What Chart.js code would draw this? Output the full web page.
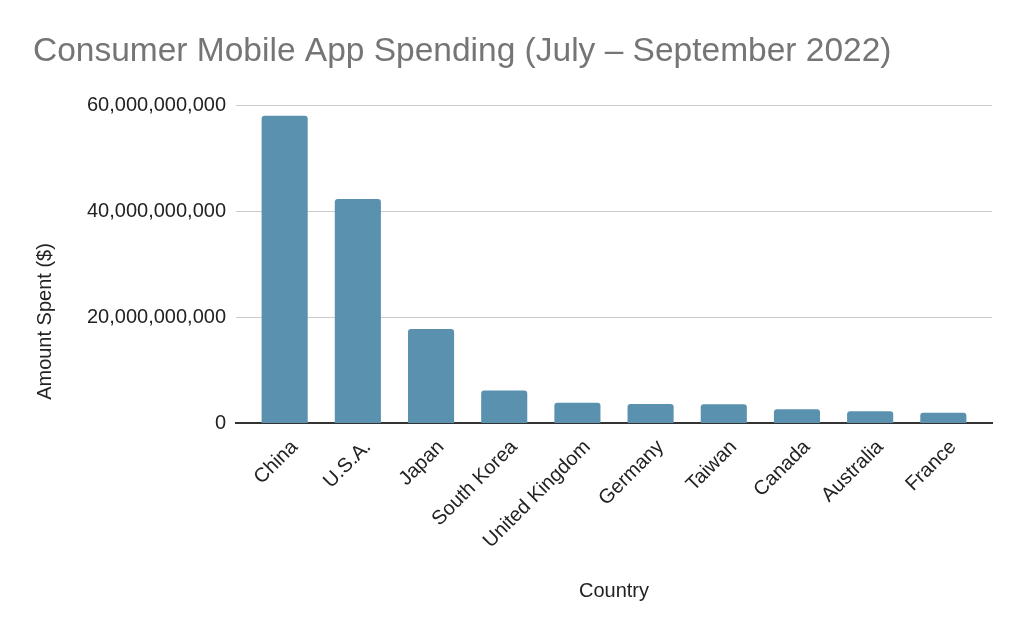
<!DOCTYPE html>
<html>
<head>
<meta charset="utf-8">
<script src="https://cdn.jsdelivr.net/npm/chart.js@4"></script>
<style>
  html, body { margin: 0; padding: 0; background: #fff; }
  #wrap { width: 1024px; height: 633px; }
</style>
</head>
<body>
<div id="wrap"><canvas id="spendChart"></canvas></div>
<script>
// Data
const countries = ['China', 'U.S.A.', 'Japan', 'South Korea', 'United Kingdom', 'Germany', 'Taiwan', 'Canada', 'Australia', 'France'];
const amounts = [58.0e9, 42.3e9, 17.8e9, 6.2e9, 3.9e9, 3.65e9, 3.6e9, 2.65e9, 2.3e9, 2.0e9];
const yTicks = [0, 20e9, 40e9, 60e9];

const FONT = 'Liberation Sans, Arial, sans-serif';

// bars sit on a numeric x axis so the plot can have a little extra room at both ends
const points = countries.map((c, i) => ({ x: i, y: amounts[i] }));

// y axis title is centred on the whole chart height, like the original
const yTitlePlugin = {
    id: 'yTitle',
    afterDraw(chart) {
        const c = chart.ctx;
        c.save();
        c.translate(45, chart.height / 2 + 5);
        c.rotate(-Math.PI / 2);
        c.fillStyle = '#222';
        c.font = '20px ' + FONT;
        c.textAlign = 'center';
        c.textBaseline = 'middle';
        c.fillText('Amount Spent ($)', 0, 0);
        c.restore();
    }
};

const ctx = document.getElementById('spendChart').getContext('2d');
const spendChart = new Chart(ctx, {
    type: 'bar',
    data: {
        datasets: [{
            label: 'Amount Spent ($)',
            data: points,
            backgroundColor: '#5a91ae',
            borderRadius: { topLeft: 3, topRight: 3 },
            borderSkipped: 'bottom',
            barPercentage: 0.63,
            categoryPercentage: 1.0,
        }]
    },
    plugins: [yTitlePlugin],
    options: {
        responsive: true,
        maintainAspectRatio: false,
        animation: false,
        layout: {
            padding: { left: 33, right: 32, top: 0, bottom: 26 }
        },
        plugins: {
            legend: { display: false },
            tooltip: { enabled: false },
            title: {
                display: true,
                text: 'Consumer Mobile App Spending (July – September 2022)',
                align: 'start',
                color: '#757575',
                font: { family: FONT, size: 33.5, weight: 'normal' },
                padding: { top: 32, bottom: 33 }
            }
        },
        scales: {
            x: {
                type: 'linear',
                offset: false,
                min: -0.665,
                max: countries.length - 1 + 0.665,
                afterBuildTicks: function (axis) {
                    axis.ticks = countries.map((c, i) => ({ value: i }));
                },
                grid: { display: false },
                border: { color: '#333', width: 2 },
                ticks: {
                    color: '#222',
                    font: { family: FONT, size: 20 },
                    minRotation: 45,
                    maxRotation: 45,
                    padding: 4,
                    labelOffset: 10,
                    callback: v => countries[v]
                },
                title: {
                    display: true,
                    text: 'Country',
                    color: '#222',
                    font: { family: FONT, size: 20 },
                    padding: { top: 22 }
                }
            },
            y: {
                min: 0,
                max: 60e9,
                afterBuildTicks: function (axis) {
                    axis.ticks = yTicks.map(v => ({ value: v }));
                },
                afterFit: function (axis) {
                    axis.width = 203;
                },
                grid: { color: '#cccccc', drawTicks: false },
                border: { display: false },
                ticks: {
                    color: '#222',
                    font: { family: FONT, size: 20 },
                    padding: 10,
                    callback: v => v.toLocaleString('en-US')
                }
            }
        }
    }
});
</script>
</body>
</html>
